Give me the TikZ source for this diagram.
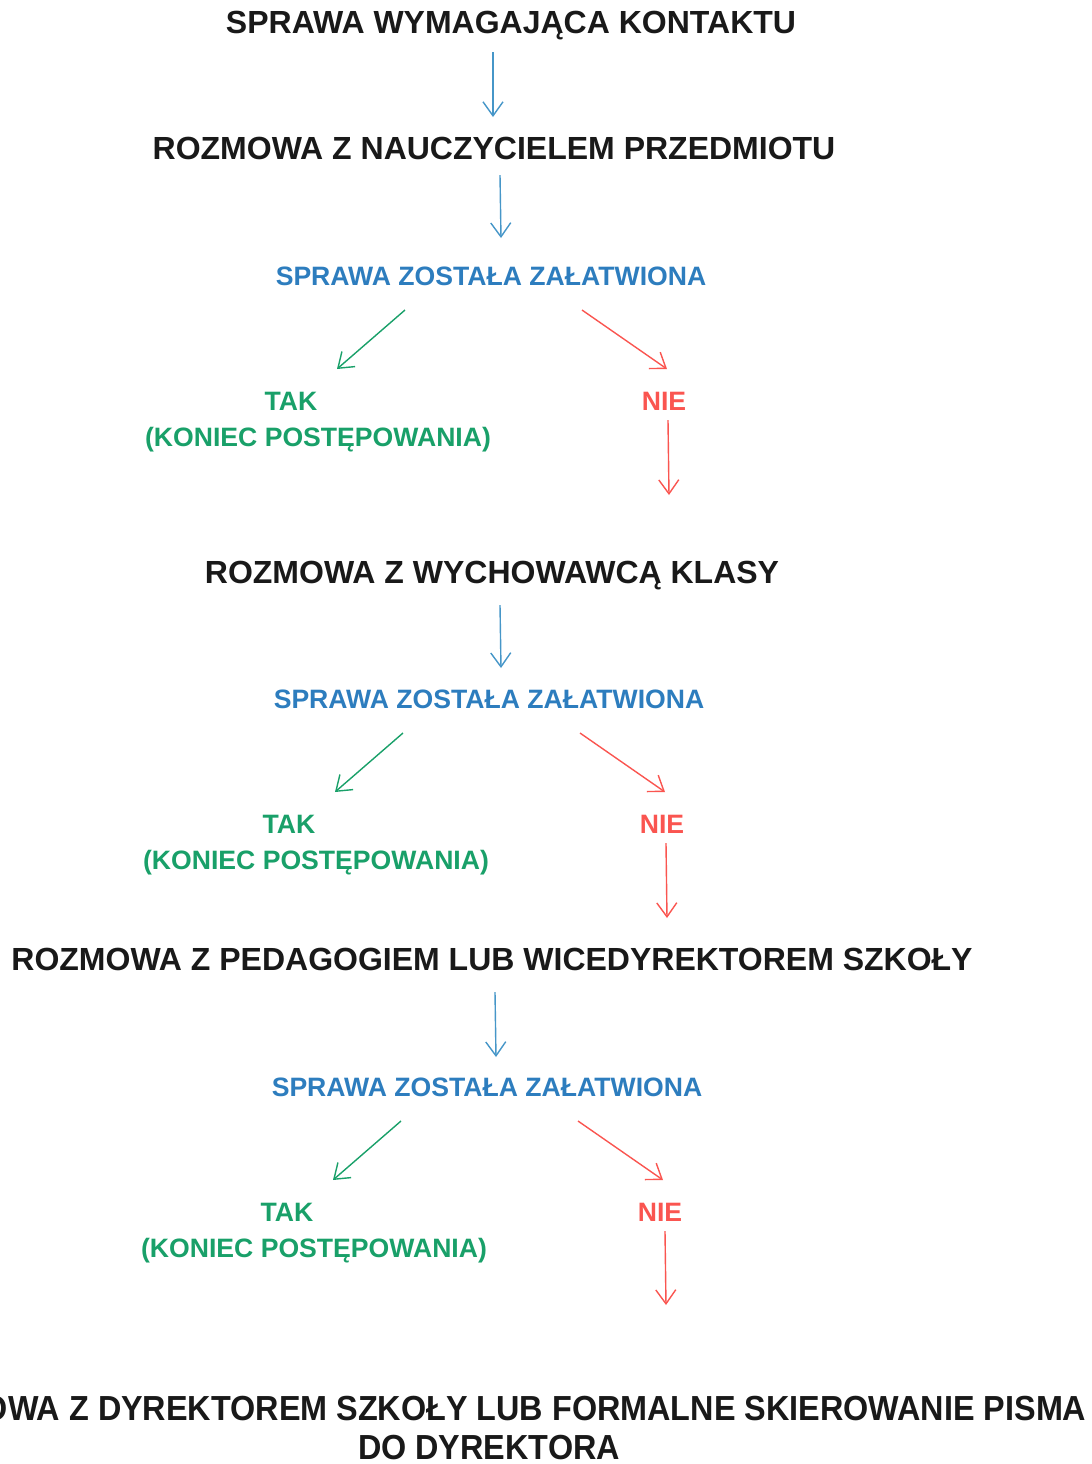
\documentclass[tikz,border=0pt]{standalone}
\usepackage{fontspec}
\setmainfont{Liberation Sans}
\usetikzlibrary{arrows.meta}
\definecolor{krokniebieski}{RGB}{45,125,190}
\definecolor{strzalkaniebieska}{RGB}{70,150,200}
\definecolor{krokzielony}{RGB}{25,160,105}
\definecolor{krokczerwony}{RGB}{250,85,80}
\tikzset{
	etap/.style={font=\bfseries\fontsize{16}{19}\selectfont, text=black!90, inner sep=0pt, anchor=mid},
	etapkoniec/.style={etap, xscale=0.93, transform shape, font=\bfseries\fontsize{17.4}{20.5}\selectfont},
	pytanie/.style={font=\bfseries\fontsize{13.3}{16}\selectfont, text=krokniebieski, inner sep=0pt, anchor=mid},
	odptak/.style={font=\bfseries\fontsize{13.3}{16}\selectfont, text=krokzielony, inner sep=0pt, anchor=mid},
	odpnie/.style={font=\bfseries\fontsize{13.3}{16}\selectfont, text=krokczerwony, inner sep=0pt, anchor=mid},
	strzalka/.style={line width=0.7pt, -{Straight Barb[length=7pt,width=10pt]}},
}
\begin{document}
\begin{tikzpicture}[x=0.5pt, y=-0.5pt]
			\useasboundingbox (0,0) rectangle (1092,1464);
			\clip (0,0) rectangle (1092,1464);
			% etapy
			\node[etap] (start) at (511,28)  {SPRAWA WYMAGAJĄCA KONTAKTU};
			\node[etap] (naucz) at (494,154) {ROZMOWA Z NAUCZYCIELEM PRZEDMIOTU};
			\node[etap] (wych)  at (492,578) {ROZMOWA Z WYCHOWAWCĄ KLASY};
			\node[etap] (pedag) at (492,965) {ROZMOWA Z PEDAGOGIEM LUB WICEDYREKTOREM SZKOŁY};
			\node[etapkoniec] (dyr)  at (487,1415) {ROZMOWA Z DYREKTOREM SZKOŁY LUB FORMALNE SKIEROWANIE PISMA};
			\node[etapkoniec] (dyr2) at (489,1454) {DO DYREKTORA};
			% pytania i odpowiedzi
			\foreach \n/\x/\y in {1/491/276, 2/489/699, 3/487/1087} {
				\node[pytanie] (pyt\n) at (\x,\y+4) {SPRAWA ZOSTAŁA ZAŁATWIONA};
				\node[odptak] (tak\n) at (\x-200,\y+129) {TAK};
				\node[odptak] (kon\n) at (\x-173,\y+165) {(KONIEC POSTĘPOWANIA)};
				\node[odpnie] (nie\n) at (\x+173,\y+129) {NIE};
				\coordinate (tz\n) at (\x-86,\y+34);
				\coordinate (tk\n) at (\x-154,\y+93);
				\coordinate (nz\n) at (\x+91,\y+34);
				\coordinate (nk\n) at (\x+176,\y+93);
				\draw[strzalka, krokzielony] (tz\n) -- (tk\n);
				\draw[strzalka, krokczerwony] (nz\n) -- (nk\n);
			}
			% strzalki w dol
			\coordinate (s1) at (493,52);   \coordinate (k1) at (493,117);
			\coordinate (s2) at (500,175);  \coordinate (k2) at (501,238);
			\coordinate (s3) at (500,605);  \coordinate (k3) at (501,668);
			\coordinate (s4) at (495,992);  \coordinate (k4) at (496,1057);
			\foreach \i in {1,...,4}
				\draw[strzalka, strzalkaniebieska] (s\i) -- (k\i);
			\coordinate (n1) at (668,420);  \coordinate (m1) at (669,495);
			\coordinate (n2) at (666,843);  \coordinate (m2) at (667,918);
			\coordinate (n3) at (665,1231); \coordinate (m3) at (666,1305);
			\foreach \i in {1,2,3}
				\draw[strzalka, krokczerwony] (n\i) -- (m\i);
		\end{tikzpicture}
\end{document}
